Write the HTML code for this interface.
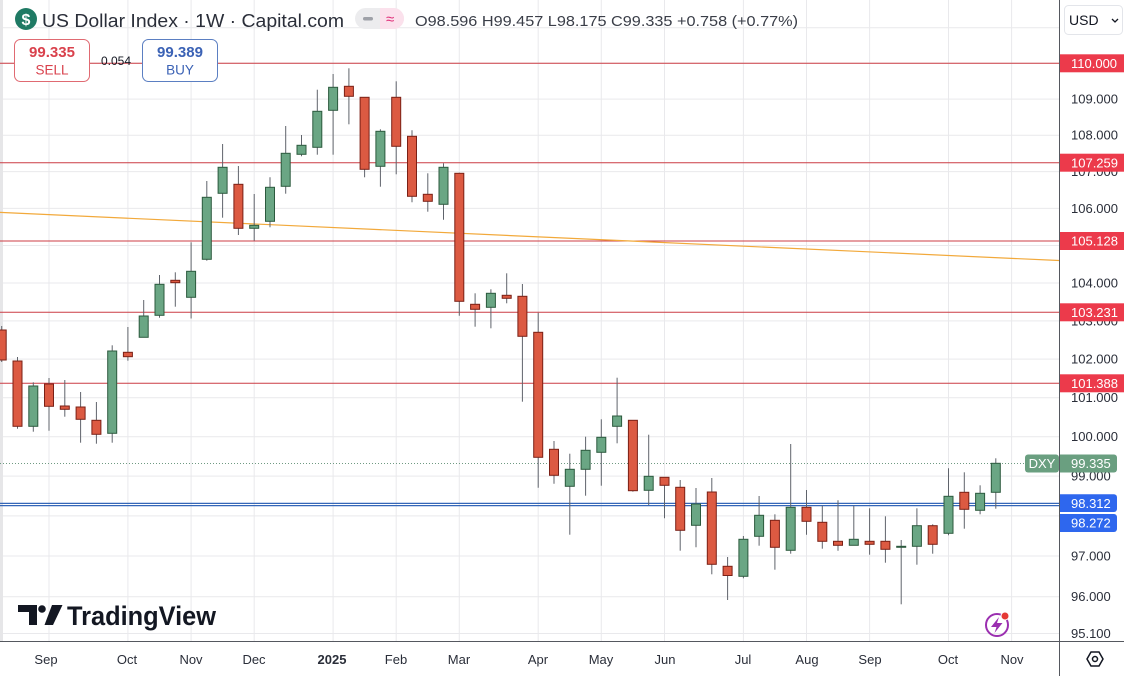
<!DOCTYPE html>
<html>
<head>
<meta charset="utf-8">
<style>
html,body{margin:0;padding:0;background:#fff;width:1124px;height:676px;overflow:hidden;}
svg{display:block;}
text{font-family:"Liberation Sans",sans-serif;}
.grid line{stroke:#e9e9ec;stroke-width:1;}
.w line{stroke:#5f636b;stroke-width:1;}
.r{fill:#dc5a42;stroke:#7a2016;stroke-width:1;}
.g{fill:#6aa684;stroke:#2c5a3e;stroke-width:1;}
.hl{stroke:#cc3d45;stroke-width:1;}
.ax{font-size:13px;fill:#2a2e39;}
.lbl{font-size:13px;fill:#fff;}
.mo{font-size:13px;fill:#2a2e39;text-anchor:middle;}
</style>
</head>
<body>
<svg width="1124" height="676" viewBox="0 0 1124 676" xmlns="http://www.w3.org/2000/svg">
<defs>
<clipPath id="cp"><rect x="0" y="0" width="1059" height="642"/></clipPath>
</defs>
<rect width="1124" height="676" fill="#fff"/>
<g clip-path="url(#cp)">
<g class="grid">
<line x1="0" x2="1059" y1="27.8" y2="27.8"/>
<line x1="0" x2="1059" y1="63.3" y2="63.3"/>
<line x1="0" x2="1059" y1="99.1" y2="99.1"/>
<line x1="0" x2="1059" y1="135.2" y2="135.2"/>
<line x1="0" x2="1059" y1="171.6" y2="171.6"/>
<line x1="0" x2="1059" y1="208.4" y2="208.4"/>
<line x1="0" x2="1059" y1="245.5" y2="245.5"/>
<line x1="0" x2="1059" y1="283" y2="283"/>
<line x1="0" x2="1059" y1="320.9" y2="320.9"/>
<line x1="0" x2="1059" y1="359.1" y2="359.1"/>
<line x1="0" x2="1059" y1="397.7" y2="397.7"/>
<line x1="0" x2="1059" y1="436.7" y2="436.7"/>
<line x1="0" x2="1059" y1="476.1" y2="476.1"/>
<line x1="0" x2="1059" y1="515.9" y2="515.9"/>
<line x1="0" x2="1059" y1="556" y2="556"/>
<line x1="0" x2="1059" y1="596.7" y2="596.7"/>
<line x1="0" x2="1059" y1="633.5" y2="633.5"/>
<line x1="49" x2="49" y1="0" y2="642"/>
<line x1="127.9" x2="127.9" y1="0" y2="642"/>
<line x1="191.1" x2="191.1" y1="0" y2="642"/>
<line x1="254.2" x2="254.2" y1="0" y2="642"/>
<line x1="333.1" x2="333.1" y1="0" y2="642"/>
<line x1="396.2" x2="396.2" y1="0" y2="642"/>
<line x1="459.3" x2="459.3" y1="0" y2="642"/>
<line x1="538.2" x2="538.2" y1="0" y2="642"/>
<line x1="601.3" x2="601.3" y1="0" y2="642"/>
<line x1="664.5" x2="664.5" y1="0" y2="642"/>
<line x1="743.4" x2="743.4" y1="0" y2="642"/>
<line x1="806.5" x2="806.5" y1="0" y2="642"/>
<line x1="869.6" x2="869.6" y1="0" y2="642"/>
<line x1="948.5" x2="948.5" y1="0" y2="642"/>
<line x1="1011.6" x2="1011.6" y1="0" y2="642"/>
</g>
<rect x="0" y="0" width="3" height="642" fill="#e6e6e8"/>

<!-- horizontal levels -->
<line class="hl" x1="0" x2="1059" y1="63.3" y2="63.3"/>
<line class="hl" x1="0" x2="1059" y1="162.7" y2="162.7"/>
<line class="hl" x1="0" x2="1059" y1="241" y2="241"/>
<line class="hl" x1="0" x2="1059" y1="312.3" y2="312.3"/>
<line class="hl" x1="0" x2="1059" y1="383.3" y2="383.3"/>
<line x1="0" x2="1059" y1="212.4" y2="260.5" stroke="#f2a93b" stroke-width="1.2"/>
<line x1="0" x2="1059" y1="503.4" y2="503.4" stroke="#3466b8" stroke-width="1.2"/>
<line x1="0" x2="1059" y1="505.6" y2="505.6" stroke="#3466b8" stroke-width="1.2"/>
<line x1="0" x2="1025" y1="463.5" y2="463.5" stroke="#6f9a82" stroke-width="1" stroke-dasharray="1 2"/>

<!-- wicks -->
<g class="w">
<line x1="1.7" x2="1.7" y1="326" y2="362"/>
<line x1="17.5" x2="17.5" y1="357" y2="428.7"/>
<line x1="33.3" x2="33.3" y1="382.3" y2="431.7"/>
<line x1="49" x2="49" y1="378" y2="430.7"/>
<line x1="64.8" x2="64.8" y1="380" y2="416.7"/>
<line x1="80.6" x2="80.6" y1="392" y2="442.7"/>
<line x1="96.4" x2="96.4" y1="402" y2="443.7"/>
<line x1="112.2" x2="112.2" y1="345.3" y2="442.7"/>
<line x1="127.9" x2="127.9" y1="327" y2="360.7"/>
<line x1="143.7" x2="143.7" y1="300" y2="337.3"/>
<line x1="159.5" x2="159.5" y1="275" y2="317.7"/>
<line x1="175.3" x2="175.3" y1="272.3" y2="306.7"/>
<line x1="191.1" x2="191.1" y1="242.3" y2="318.5"/>
<line x1="206.8" x2="206.8" y1="181" y2="260.7"/>
<line x1="222.6" x2="222.6" y1="144" y2="217.7"/>
<line x1="238.4" x2="238.4" y1="166" y2="235"/>
<line x1="254.2" x2="254.2" y1="194" y2="240.7"/>
<line x1="270" x2="270" y1="177.3" y2="227.3"/>
<line x1="285.7" x2="285.7" y1="126" y2="193.7"/>
<line x1="301.5" x2="301.5" y1="135" y2="156.3"/>
<line x1="317.3" x2="317.3" y1="89.7" y2="154.7"/>
<line x1="333.1" x2="333.1" y1="74" y2="154.7"/>
<line x1="348.9" x2="348.9" y1="68.3" y2="124.3"/>
<line x1="364.6" x2="364.6" y1="97.3" y2="177.3"/>
<line x1="380.4" x2="380.4" y1="129.3" y2="186.7"/>
<line x1="396.2" x2="396.2" y1="81.3" y2="174.3"/>
<line x1="412" x2="412" y1="130.3" y2="202.3"/>
<line x1="427.8" x2="427.8" y1="173.3" y2="211.7"/>
<line x1="443.5" x2="443.5" y1="163.3" y2="219.7"/>
<line x1="459.3" x2="459.3" y1="172.7" y2="315.7"/>
<line x1="475.1" x2="475.1" y1="293.3" y2="326.7"/>
<line x1="490.9" x2="490.9" y1="289.3" y2="328.3"/>
<line x1="506.7" x2="506.7" y1="273.3" y2="303.3"/>
<line x1="522.4" x2="522.4" y1="284" y2="401.7"/>
<line x1="538.2" x2="538.2" y1="312.7" y2="487.7"/>
<line x1="554" x2="554" y1="441" y2="483.7"/>
<line x1="569.8" x2="569.8" y1="453.7" y2="534.7"/>
<line x1="585.6" x2="585.6" y1="436.7" y2="495.7"/>
<line x1="601.3" x2="601.3" y1="419.3" y2="485.7"/>
<line x1="617.1" x2="617.1" y1="377.7" y2="443.3"/>
<line x1="632.9" x2="632.9" y1="420.3" y2="491.7"/>
<line x1="648.7" x2="648.7" y1="434.7" y2="505"/>
<line x1="664.5" x2="664.5" y1="477.3" y2="518.3"/>
<line x1="680.2" x2="680.2" y1="480" y2="550.7"/>
<line x1="696" x2="696" y1="488" y2="547.3"/>
<line x1="711.8" x2="711.8" y1="478" y2="574.3"/>
<line x1="727.6" x2="727.6" y1="557" y2="600"/>
<line x1="743.4" x2="743.4" y1="536" y2="578.3"/>
<line x1="759.1" x2="759.1" y1="496" y2="545.7"/>
<line x1="774.9" x2="774.9" y1="514.3" y2="569.7"/>
<line x1="790.7" x2="790.7" y1="444" y2="553.7"/>
<line x1="806.5" x2="806.5" y1="490" y2="534.7"/>
<line x1="822.3" x2="822.3" y1="505.7" y2="548.7"/>
<line x1="838" x2="838" y1="500.3" y2="550.7"/>
<line x1="853.8" x2="853.8" y1="505.7" y2="545.3"/>
<line x1="869.6" x2="869.6" y1="508.3" y2="554.7"/>
<line x1="885.4" x2="885.4" y1="516.3" y2="562.7"/>
<line x1="901.2" x2="901.2" y1="540" y2="604.3"/>
<line x1="916.9" x2="916.9" y1="508.3" y2="564.7"/>
<line x1="932.7" x2="932.7" y1="524.3" y2="553.7"/>
<line x1="948.5" x2="948.5" y1="468.3" y2="535.3"/>
<line x1="964.3" x2="964.3" y1="472.3" y2="528.7"/>
<line x1="980.1" x2="980.1" y1="485.3" y2="514.3"/>
<line x1="995.8" x2="995.8" y1="458.3" y2="508.7"/>
</g>

<!-- bodies -->
<g>
<rect class="r" x="-2.8" y="330" width="9" height="30"/>
<rect class="r" x="13" y="361" width="9" height="65.3"/>
<rect class="g" x="28.8" y="386" width="9" height="40.3"/>
<rect class="r" x="44.5" y="384" width="9" height="22.3"/>
<rect class="r" x="60.3" y="406" width="9" height="3.3"/>
<rect class="r" x="76.1" y="407" width="9" height="12.3"/>
<rect class="r" x="91.9" y="420.3" width="9" height="14"/>
<rect class="g" x="107.7" y="351" width="9" height="82.3"/>
<rect class="r" x="123.4" y="352.3" width="9" height="4.4"/>
<rect class="g" x="139.2" y="316" width="9" height="21.3"/>
<rect class="g" x="155" y="284.3" width="9" height="31"/>
<rect class="r" x="170.8" y="280.3" width="9" height="2.4"/>
<rect class="g" x="186.6" y="271.3" width="9" height="26"/>
<rect class="g" x="202.3" y="197.3" width="9" height="62"/>
<rect class="g" x="218.1" y="167.3" width="9" height="26"/>
<rect class="r" x="233.9" y="184.3" width="9" height="44"/>
<rect class="g" x="249.7" y="225.3" width="9" height="3"/>
<rect class="g" x="265.5" y="187.3" width="9" height="34"/>
<rect class="g" x="281.2" y="153.3" width="9" height="33"/>
<rect class="g" x="297" y="145.3" width="9" height="9"/>
<rect class="g" x="312.8" y="111.3" width="9" height="36"/>
<rect class="g" x="328.6" y="87.3" width="9" height="23"/>
<rect class="r" x="344.4" y="86.3" width="9" height="10"/>
<rect class="r" x="360.1" y="97.3" width="9" height="72"/>
<rect class="g" x="375.9" y="131.3" width="9" height="35"/>
<rect class="r" x="391.7" y="97.3" width="9" height="49"/>
<rect class="r" x="407.5" y="136.3" width="9" height="60"/>
<rect class="r" x="423.3" y="194.3" width="9" height="7"/>
<rect class="g" x="439" y="167.3" width="9" height="37"/>
<rect class="r" x="454.8" y="173.3" width="9" height="128"/>
<rect class="r" x="470.6" y="304.3" width="9" height="5"/>
<rect class="g" x="486.4" y="293.3" width="9" height="14"/>
<rect class="r" x="502.2" y="295.3" width="9" height="3"/>
<rect class="r" x="517.9" y="296.3" width="9" height="40"/>
<rect class="r" x="533.7" y="332.3" width="9" height="125"/>
<rect class="r" x="549.5" y="449.3" width="9" height="26"/>
<rect class="g" x="565.3" y="469.3" width="9" height="17"/>
<rect class="g" x="581.1" y="450.3" width="9" height="19"/>
<rect class="g" x="596.8" y="437.3" width="9" height="15"/>
<rect class="g" x="612.6" y="416" width="9" height="10.3"/>
<rect class="r" x="628.4" y="420.3" width="9" height="70.4"/>
<rect class="g" x="644.2" y="476.3" width="9" height="14"/>
<rect class="r" x="660" y="477.3" width="9" height="8"/>
<rect class="r" x="675.7" y="487.3" width="9" height="43"/>
<rect class="g" x="691.5" y="504" width="9" height="21.3"/>
<rect class="r" x="707.3" y="492" width="9" height="72.3"/>
<rect class="r" x="723.1" y="566.3" width="9" height="9.2"/>
<rect class="g" x="738.9" y="539.3" width="9" height="37"/>
<rect class="g" x="754.6" y="515.3" width="9" height="21"/>
<rect class="r" x="770.4" y="520.3" width="9" height="27"/>
<rect class="g" x="786.2" y="507.3" width="9" height="43"/>
<rect class="r" x="802" y="507.3" width="9" height="14"/>
<rect class="r" x="817.8" y="522.3" width="9" height="19"/>
<rect class="r" x="833.5" y="541.3" width="9" height="4"/>
<rect class="g" x="849.3" y="539.3" width="9" height="6"/>
<rect class="r" x="865.1" y="541.3" width="9" height="3"/>
<rect class="r" x="880.9" y="541.3" width="9" height="8"/>
<rect x="896.2" y="545.8" width="10" height="2" fill="#2c5a3e"/>
<rect class="g" x="912.4" y="525.7" width="9" height="20.6"/>
<rect class="r" x="928.2" y="525.7" width="9" height="18.6"/>
<rect class="g" x="944" y="496.3" width="9" height="37"/>
<rect class="r" x="959.8" y="492.3" width="9" height="17"/>
<rect class="g" x="975.6" y="493.3" width="9" height="17"/>
<rect class="g" x="991.3" y="463.3" width="9" height="29"/>
</g>
</g>

<!-- header -->
<circle cx="26" cy="19" r="11" fill="#1f7a64"/>
<text x="26" y="25" font-size="16" font-weight="bold" fill="#fff" text-anchor="middle">$</text>
<text x="42" y="27" font-size="18" fill="#2a2e39" textLength="302" lengthAdjust="spacingAndGlyphs">US Dollar Index · 1W · Capital.com</text>
<rect x="355" y="8" width="49" height="21" rx="10.5" fill="#ececee"/>
<path d="M380 8 H393.5 A10.5 10.5 0 0 1 393.5 29 H380 Z" fill="#fbe1ec"/>
<rect x="363" y="17" width="10" height="3.5" rx="1.7" fill="#9ea1a8"/>
<text x="386" y="24" font-size="15" fill="#e0307a">≈</text>
<text x="415" y="26" font-size="15" fill="#3a3e48" textLength="383" lengthAdjust="spacingAndGlyphs">O98.596 H99.457 L98.175 C99.335 +0.758 (+0.77%)</text>

<!-- sell / buy -->
<rect x="14.5" y="39.5" width="75" height="42" rx="6" fill="#fff" stroke="#e06a72" stroke-width="1"/>
<text x="52" y="57" font-size="15" font-weight="bold" fill="#d9414c" text-anchor="middle">99.335</text>
<text x="52" y="74.5" font-size="13.5" fill="#d9414c" text-anchor="middle">SELL</text>
<text x="101" y="65" font-size="12" fill="#131722">0.054</text>
<rect x="142.5" y="39.5" width="75" height="42" rx="6" fill="#fff" stroke="#5b7fc2" stroke-width="1"/>
<text x="180" y="57" font-size="15" font-weight="bold" fill="#3b62b5" text-anchor="middle">99.389</text>
<text x="180" y="74.5" font-size="13.5" fill="#3b62b5" text-anchor="middle">BUY</text>

<!-- TradingView logo -->
<g fill="#131722">
<rect x="18" y="605" width="19" height="7"/>
<rect x="29" y="605" width="8" height="20"/>
<circle cx="42" cy="609" r="3.8"/>
<polygon points="52,605 62.5,605 53,625 44.5,625"/>
</g>
<text x="67" y="625" font-size="27" font-weight="bold" fill="#131722" textLength="149" lengthAdjust="spacingAndGlyphs">TradingView</text>

<!-- lightning icon -->
<circle cx="997" cy="625" r="11" fill="none" stroke="#9b2fb0" stroke-width="2"/>
<polygon points="999,617 991,627 996.5,627 994.5,633 1002.5,623 997,623" fill="#9b2fb0"/>
<circle cx="1005" cy="616" r="4.5" fill="#fff"/>
<circle cx="1005" cy="616" r="3.5" fill="#e53935"/>

<!-- axes lines -->
<line x1="1059.5" x2="1059.5" y1="0" y2="676" stroke="#55585f" stroke-width="1"/>
<line x1="0" x2="1124" y1="641.5" y2="641.5" stroke="#55585f" stroke-width="1"/>

<!-- month labels -->
<text class="mo" x="46" y="664">Sep</text>
<text class="mo" x="127" y="664">Oct</text>
<text class="mo" x="191" y="664">Nov</text>
<text class="mo" x="254" y="664">Dec</text>
<text class="mo" x="332" y="664" font-weight="bold">2025</text>
<text class="mo" x="396" y="664">Feb</text>
<text class="mo" x="459" y="664">Mar</text>
<text class="mo" x="538" y="664">Apr</text>
<text class="mo" x="601" y="664">May</text>
<text class="mo" x="665" y="664">Jun</text>
<text class="mo" x="743" y="664">Jul</text>
<text class="mo" x="807" y="664">Aug</text>
<text class="mo" x="870" y="664">Sep</text>
<text class="mo" x="948" y="664">Oct</text>
<text class="mo" x="1012" y="664">Nov</text>

<!-- settings hexagon -->
<polygon points="1087,659 1091,652 1099,652 1103,659 1099,666 1091,666" fill="none" stroke="#131722" stroke-width="1.5"/>
<circle cx="1095" cy="659" r="2.5" fill="none" stroke="#131722" stroke-width="1.5"/>

<!-- USD button -->
<rect x="1064.5" y="5.5" width="58" height="29" rx="4" fill="#fff" stroke="#e3e5ea"/>
<text x="1069" y="25" font-size="14" fill="#131722">USD</text>
<polyline points="1112,19 1115,22 1118,19" fill="none" stroke="#131722" stroke-width="1.3"/>

<!-- price axis labels -->
<text class="ax" x="1071" y="103.6">109.000</text>
<text class="ax" x="1071" y="139.7">108.000</text>
<text class="ax" x="1071" y="176.1">107.000</text>
<text class="ax" x="1071" y="212.9">106.000</text>
<text class="ax" x="1071" y="287.5">104.000</text>
<text class="ax" x="1071" y="325.4">103.000</text>
<text class="ax" x="1071" y="363.6">102.000</text>
<text class="ax" x="1071" y="402.2">101.000</text>
<text class="ax" x="1071" y="441.2">100.000</text>
<text class="ax" x="1071" y="480.6">99.000</text>
<text class="ax" x="1071" y="560.5">97.000</text>
<text class="ax" x="1071" y="601.2">96.000</text>
<text class="ax" x="1071" y="638">95.100</text>

<!-- colored labels -->
<rect x="1060" y="54.3" width="64" height="18" fill="#ec3a4b"/>
<text class="lbl" x="1071" y="68">110.000</text>
<rect x="1060" y="153.7" width="64" height="18" fill="#ec3a4b"/>
<text class="lbl" x="1071" y="167.4">107.259</text>
<rect x="1060" y="232" width="64" height="18" fill="#ec3a4b"/>
<text class="lbl" x="1071" y="245.7">105.128</text>
<rect x="1060" y="303.3" width="64" height="18" fill="#ec3a4b"/>
<text class="lbl" x="1071" y="317">103.231</text>
<rect x="1060" y="374.3" width="64" height="18" fill="#ec3a4b"/>
<text class="lbl" x="1071" y="388">101.388</text>

<rect x="1025" y="454.5" width="34" height="18" rx="3" fill="#6a9f80"/>
<text class="lbl" x="1042" y="468.2" text-anchor="middle">DXY</text>
<path d="M1060 454.5 H1114 A3 3 0 0 1 1117 457.5 V469.5 A3 3 0 0 1 1114 472.5 H1060 Z" fill="#6a9f80"/>
<text class="lbl" x="1071" y="468.2">99.335</text>

<path d="M1060 494.3 H1114 A3 3 0 0 1 1117 497.3 V509 A3 3 0 0 1 1114 512 H1060 Z" fill="#2e67ee"/>
<text class="lbl" x="1071" y="507.8">98.312</text>
<path d="M1060 514 H1114 A3 3 0 0 1 1117 517 V529 A3 3 0 0 1 1114 532 H1060 Z" fill="#2e67ee"/>
<text class="lbl" x="1071" y="527.6">98.272</text>
</svg>
</body>
</html>
